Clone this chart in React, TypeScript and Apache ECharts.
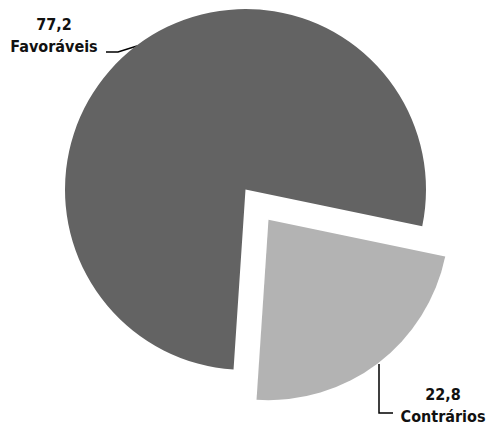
import React, { useEffect, useRef } from "react";
import * as echarts from "echarts";

const categories = ["Favoráveis", "Contrários"];
const values = [77.2, 22.8];
const valueLabels = ["77,2", "22,8"];
const colors = ["#636363", "#b3b3b3"];

const START_ANGLE = 266.2;
const CENTER = [245.5, 189.5];
const RADIUS = 180.5;

export default function App() {
  const ref = useRef<HTMLDivElement>(null);
  useEffect(() => {
    if (!ref.current) return;
    const chart = echarts.init(ref.current, null, { renderer: "svg" });
    chart.setOption({
      animation: false,
      backgroundColor: "#ffffff",
      series: [
        {
          type: "pie",
          center: CENTER,
          radius: [0, RADIUS],
          startAngle: START_ANGLE,
          clockwise: true,
          selectedMode: "multiple",
          selectedOffset: 38,
          silent: true,
          data: categories.map((c, i) => ({
            name: c,
            value: values[i],
            selected: i === 1,
            itemStyle: { color: colors[i] },
          })),
          label: { show: false },
          labelLine: { show: false },
          emphasis: { disabled: true },
        },
        {
          type: "pie",
          center: CENTER,
          radius: [0, RADIUS],
          startAngle: START_ANGLE,
          clockwise: true,
          silent: true,
          avoidLabelOverlap: false,
          itemStyle: { color: "rgba(0,0,0,0)" },
          data: categories.map((c, i) => ({ name: c, value: values[i] })),
          label: {
            show: true,
            formatter: (p: any) => valueLabels[p.dataIndex] + "\n" + p.name,
            fontFamily: "DejaVu Sans Condensed, DejaVu Sans, sans-serif",
            fontWeight: "bold",
            fontSize: 16,
            lineHeight: 22,
            color: "#111111",
            align: "center",
          },
          labelLine: {
            show: true,
            lineStyle: { color: "#000000", width: 1.5 },
          },
          labelLayout: (params: any) => {
            if (params.dataIndex === 0) {
              return {
                x: 54,
                y: 35,
                align: "center",
                verticalAlign: "middle",
                labelLinePoints: [
                  [137, 46],
                  [118, 52],
                  [106, 52],
                ],
              };
            }
            return {
              x: 443,
              y: 405,
              align: "center",
              verticalAlign: "middle",
              labelLinePoints: [
                [379, 364],
                [379, 413],
                [393, 413],
              ],
            };
          },
          emphasis: { disabled: true },
        },
      ],
    });
    return () => chart.dispose();
  }, []);
  return (
    <div
      ref={ref}
      style={{ position: "fixed", left: 0, top: 0, width: 487, height: 424 }}
    />
  );
}
